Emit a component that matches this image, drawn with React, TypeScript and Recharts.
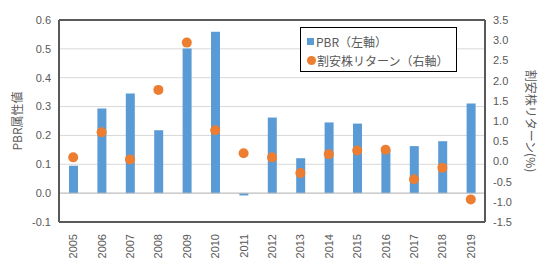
import React from 'react';
import {
    ComposedChart, Bar, Line, XAxis, YAxis, CartesianGrid, ReferenceLine,
} from 'recharts';

const years = ['2005', '2006', '2007', '2008', '2009', '2010', '2011', '2012', '2013', '2014', '2015', '2016', '2017', '2018', '2019'];
const pbr = [0.095, 0.293, 0.345, 0.218, 0.501, 0.559, -0.008, 0.262, 0.121, 0.245, 0.241, 0.152, 0.163, 0.18, 0.311];
const valueReturn = [0.1, 0.72, 0.05, 1.77, 2.94, 0.77, 0.2, 0.1, -0.29, 0.18, 0.27, 0.29, -0.44, -0.16, -0.94];
const leftTicks = [-0.1, 0, 0.1, 0.2, 0.3, 0.4, 0.5, 0.6];
const rightTicks = [-1.5, -1, -0.5, 0, 0.5, 1, 1.5, 2, 2.5, 3, 3.5];

const BLUE = '#5B9BD5';
const ORANGE = '#ED7D31';
const TEXT = '#595959';
const BORDER = '#595959';
const FONT = '"Liberation Sans", Arial, sans-serif';
const JP = '"Noto Sans CJK JP", sans-serif';

const data = years.map((y, i) => ({ year: y, pbr: pbr[i], ret: valueReturn[i] }));

const YearTick = (props: any) => {
    const { x, y, payload } = props;
    return (
        <text transform={`translate(${x + 4},${y + 4}) rotate(-90)`} textAnchor="end"
            fill={TEXT} fontSize={11} fontFamily={FONT}>
            {payload.value}
        </text>
    );
};

const LegendBox = () => (
    <div style={{
        position: 'absolute', left: 300, top: 27, width: 157, height: 45,
        border: '1px solid #000', background: '#fff',
        fontFamily: JP, fontSize: 12, color: TEXT, boxSizing: 'border-box', padding: '4px 0 0 6px',
    }}>
        <div style={{ display: 'flex', alignItems: 'center', height: 19 }}>
            <span style={{ width: 7, height: 7, background: BLUE, display: 'inline-block', marginRight: 2 }} />
            PBR（左軸）
        </div>
        <div style={{ display: 'flex', alignItems: 'center', height: 19 }}>
            <span style={{ width: 9, height: 9, borderRadius: '50%', background: ORANGE, display: 'inline-block', marginRight: 1 }} />
            割安株リターン（右軸）
        </div>
    </div>
);

export default function App() {
    const axisLine = { stroke: BORDER, strokeWidth: 2 };
    return (
        <div style={{ position: 'absolute', left: 0, top: 0, width: 547, height: 269, background: '#fff' }}>
            <ComposedChart width={547} height={269} data={data}
                margin={{ top: 0, right: 0, bottom: 0, left: 0 }} barSize={9}>
                <CartesianGrid yAxisId="left" vertical={false} stroke="#d9d9d9" />
                <XAxis xAxisId="top" dataKey="year" orientation="top" height={20} tick={false} tickLine={false} axisLine={axisLine} />
                <XAxis dataKey="year" height={47} tick={<YearTick />} tickLine={false} axisLine={axisLine} interval={0} />
                <YAxis yAxisId="left" width={59} domain={[-0.1, 0.6]} ticks={leftTicks}
                    tickFormatter={(v: number) => v.toFixed(1)} tickLine={false} axisLine={axisLine}
                    tick={{ fill: TEXT, fontSize: 11, fontFamily: FONT }}
                    label={{ value: 'PBR属性値', angle: -90, position: 'insideLeft', offset: 18, fill: TEXT, fontSize: 12, fontFamily: JP, style: { textAnchor: 'middle' } }} />
                <YAxis yAxisId="right" orientation="right" width={62} domain={[-1.5, 3.5]} ticks={rightTicks}
                    tickFormatter={(v: number) => v.toFixed(1)} tickLine={false} axisLine={axisLine}
                    tick={{ fill: TEXT, fontSize: 11, fontFamily: FONT }}
                    label={{ value: '割安株リターン(%)', angle: 90, position: 'insideRight', offset: 17, fill: TEXT, fontSize: 12, fontFamily: JP, style: { textAnchor: 'middle' } }} />
                <ReferenceLine yAxisId="left" y={0} stroke="#bfbfbf" />
                <Bar yAxisId="left" dataKey="pbr" fill={BLUE} isAnimationActive={false} />
                <Line yAxisId="right" dataKey="ret" stroke="none" isAnimationActive={false}
                    dot={{ r: 5, fill: ORANGE, stroke: 'none' }} activeDot={false} />
            </ComposedChart>
            <LegendBox />
        </div>
    );
}
